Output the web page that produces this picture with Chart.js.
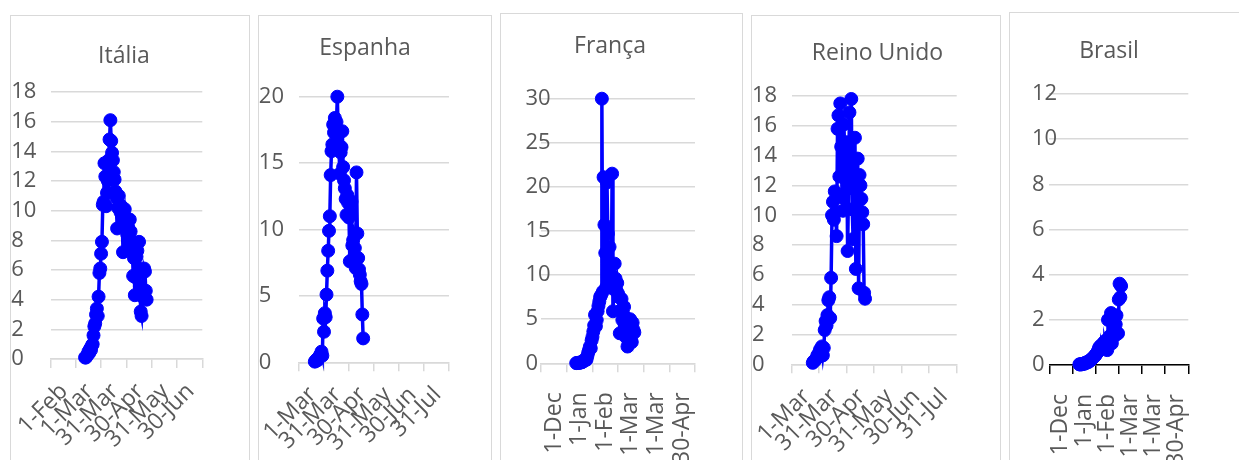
<!DOCTYPE html>
<html><head><meta charset="utf-8">
<script src="https://cdn.jsdelivr.net/npm/chart.js@4"></script>
<style>
html,body{margin:0;padding:0;background:#fff;overflow:hidden;width:1239px;height:460px;position:relative;}
.box{position:absolute;border:1px solid #d9d9d9;box-sizing:border-box;}
canvas{position:absolute;}
.ttl{position:absolute;font-family:"Open Sans";font-size:23px;line-height:23px;color:#595959;white-space:nowrap;transform:translateX(-50%);}
</style></head><body>
<script>
// ---------- DATA ----------
const italiaDias = [26,27,28,29,30,31,32,33,34,35,36,37,38,39,40,41,42,43,44,45,46,47,48,49,50,51,52,53,54,55,56,57,58,59,60,61,62,63,64,65,66,67,68,69,70,71,72,73,74,75,76,77,78,79,80,81,82,83,84,85,86,87,88,89,90,91,92,93,94,95,96,97,98,99];
const italiaValores = [0.1,0.1,0.2,0.3,0.5,0.4,0.7,0.6,0.9,1.0,1.6,2.2,2.4,3.0,3.4,2.9,4.2,5.8,6.1,7.1,7.9,10.4,10.6,13.2,12.3,10.3,11.2,12.0,13.4,14.8,16.1,14.7,13.9,13.4,12.6,12.1,11.3,10.9,8.8,10.2,11.0,10.4,9.9,10.3,9.6,7.2,9.8,10.1,9.5,9.2,8.4,8.9,7.7,9.4,8.6,7.4,7.9,5.6,6.8,4.3,5.5,6.9,7.3,5.9,7.9,4.9,3.2,2.9,4.2,4.6,6.1,5.9,4.6,4.0];
const italiaRotulos = ['1-Feb','1-Mar','31-Mar','30-Apr','31-May','30-Jun'];

const espanhaDias = [4,5,6,7,8,9,10,11,12,13,14,15,16,17,18,19,20,21,22,23,24,25,26,27,28,29,30,31,32,33,34,35,36,37,38,39,40,41,42,43,44,45,46,47,48,49,50,51,52,53,54,55,56,57,58,59,60,61,62];
const espanhaValores = [0.05,0.1,0.2,0.15,0.3,0.4,0.5,0.6,0.8,0.5,3.3,2.3,3.7,3.4,5.1,6.9,8.4,9.9,11.0,14.1,15.9,16.4,17.9,17.3,18.4,16.3,18.1,20.0,17.3,16.0,14.2,15.8,16.2,17.4,14.7,13.7,13.1,12.3,11.1,12.6,12.0,10.9,7.6,11.3,12.1,8.8,9.2,7.9,8.6,7.1,14.3,9.7,7.85,7.0,6.6,6.1,5.9,3.6,1.8];
const espanhaRotulos = ['1-Mar','31-Mar','30-Apr','31-May','30-Jun','31-Jul'];

const francaDias = [26,27,28,29,30,31,32,33,34,35,36,37,38,39,40,41,42,43,44,45,46,47,48,49,50,51,52,53,54,55,56,57,58,59,60,61,62,63,64,65,66,67,68,69,70,71,72,73,74,75,76,77,78,79,80,81,82,83,84,85,86,87,88,89,90,91,92,93,94];
const francaValores = [0.02,0.03,0.05,0.05,0.08,0.1,0.1,0.15,0.2,0.3,0.4,0.5,0.4,0.8,1.2,1.5,1.9,1.7,2.6,3.0,3.6,4.3,5.5,4.2,4.9,5.9,6.5,7.0,7.5,7.7,30.0,8.1,21.1,15.7,12.5,8.6,20.5,14.7,9.0,13.2,11.0,8.6,21.5,5.9,8.4,11.3,9.6,8.3,9.1,7.9,7.5,3.4,6.0,7.3,4.9,5.6,6.4,4.1,3.0,4.9,1.9,2.6,4.3,5.0,2.7,2.4,4.6,3.8,3.5];
const francaRotulos = ['1-Dec','1-Jan','1-Feb','1-Mar','1-Mar','30-Apr'];

const reinoUnidoDias = [8,9,10,11,12,13,14,15,16,17,18,19,20,21,22,23,24,25,26,27,28,29,30,31,32,33,34,35,36,37,38,39,40,41,42,43,44,45,46,47,48,49,50,51,52,53,54,55,56,57,58,59,60,61,62,63,64,65];
const reinoUnidoValores = [0.1,0.2,0.25,0.3,0.4,0.6,0.5,0.8,1.0,0.9,1.2,0.6,1.1,2.3,2.9,2.6,3.3,4.3,4.5,3.1,5.8,10.0,10.9,9.7,11.6,10.2,8.6,15.8,16.7,12.6,17.5,14.6,11.2,10.3,16.1,13.5,12.4,14.9,7.6,11.8,16.9,12.9,17.8,10.4,8.4,12.2,15.2,6.4,11.9,13.8,5.1,12.7,12.0,11.1,10.2,9.4,4.8,4.4];
const reinoUnidoRotulos = ['1-Mar','31-Mar','30-Apr','31-May','30-Jun','31-Jul'];

const brasilDias = [24,25,26,27,28,29,30,31,32,33,34,35,36,37,38,39,40,41,42,43,44,45,46,47,48,49,50,51,52,53,54,55,56,57,58,59,60,61,62,63,64,65,66,67,68,69,70,71,72,73,74,75,76,77,78];
const brasilValores = [0.03,0.02,0.04,0.03,0.05,0.06,0.05,0.08,0.1,0.09,0.12,0.15,0.14,0.18,0.2,0.24,0.26,0.3,0.33,0.37,0.4,0.45,0.5,0.55,0.6,0.72,0.8,0.68,0.85,0.9,0.78,0.95,1.0,1.05,0.9,1.1,0.66,2.0,1.2,1.0,1.3,2.3,0.96,1.9,2.0,1.6,1.3,1.8,2.2,1.4,1.4,2.9,3.6,3.0,3.5];
const brasilRotulos = ['1-Dec','1-Jan','1-Feb','1-Mar','1-Mar','30-Apr'];

// label centre positions (days) and interval boundaries (days)
const posRotulos = [0,30,60,90,120,150];
const limites = [-15,15,45,75,105,135,165];

// ---------- LAYOUT ----------
const panels = [
  {title:'Itália', dias:italiaDias, valores:italiaValores, rotulos:italiaRotulos, yMax:18, yStep:2, rot:45,
   box:{l:10,t:15,r:250}, area:{l:50.5,r:202.3,t:92,b:359}, labelLeft:11.2, tx:124, ty:55, axis:'#d9d9d9'},
  {title:'Espanha', dias:espanhaDias, valores:espanhaValores, rotulos:espanhaRotulos, yMax:20, yStep:5, rot:45,
   box:{l:258,t:15,r:492}, area:{l:299,r:449,t:96.7,b:362.3}, labelLeft:258.8, tx:365, ty:46.7, axis:'#d9d9d9'},
  {title:'França', dias:francaDias, valores:francaValores, rotulos:francaRotulos, yMax:30, yStep:5, rot:90,
   box:{l:500,t:13,r:743}, area:{l:541.2,r:695,t:98.7,b:363.3}, labelLeft:525.5, tx:610, ty:45, axis:'#d9d9d9'},
  {title:'Reino Unido', dias:reinoUnidoDias, valores:reinoUnidoValores, rotulos:reinoUnidoRotulos, yMax:18, yStep:2, rot:45,
   box:{l:751,t:15,r:1001}, area:{l:791.7,r:956.7,t:96,b:364.3}, labelLeft:752, tx:877.5, ty:51.7, axis:'#d9d9d9'},
  {title:'Brasil', dias:brasilDias, valores:brasilValores, rotulos:brasilRotulos, yMax:12, yStep:2, rot:90,
   box:{l:1009,t:12,r:1249}, area:{l:1049.3,r:1188.3,t:94,b:365}, labelLeft:1032, tx:1109, ty:50, axis:'#000000'}
];

Chart.defaults.font.family = '"Open Sans"';
const TXT = '#595959';
const BOTTOM = 475;
const TICKLEN = 9;

panels.forEach((p) => {
  const W = p.box.r - p.box.l, H = BOTTOM - p.box.t;
  const b = document.createElement('div');
  b.className = 'box';
  Object.assign(b.style, {left:p.box.l+'px', top:p.box.t+'px', width:W+'px', height:(H+20)+'px'});
  document.body.appendChild(b);

  const c = document.createElement('canvas');
  c.width = W; c.height = H;
  Object.assign(c.style, {left:p.box.l+'px', top:p.box.t+'px', width:W+'px', height:H+'px'});
  document.body.appendChild(c);

  const t = document.createElement('div');
  t.className = 'ttl';
  t.textContent = p.title;
  Object.assign(t.style, {left:p.tx+'px', top:(p.ty-12.1)+'px'});
  document.body.appendChild(t);

  const pxPerDay = (p.area.r - p.area.l) / 180;
  const shift = p.rot === 45 ? 1 / pxPerDay : 0;
  const pad = p.rot === 45 ? 10 : 20;
  const chartBottom = p.area.b - p.box.t;

  new Chart(c.getContext('2d'), {
    type:'line',
    data:{datasets:[{
      data:p.dias.map((d,i)=>({x:d, y:p.valores[i]})),
      borderColor:'#0000ff', backgroundColor:'#0000ff', borderWidth:3.5,
      pointRadius:6.5, pointBorderWidth:1, pointBackgroundColor:'#0000ff', pointBorderColor:'#0000ff',
      tension:0, clip:false, xAxisID:'x', yAxisID:'y'
    }]},
    options:{
      responsive:false, animation:false, devicePixelRatio:1, events:[],
      layout:{padding:{left:p.labelLeft - p.box.l, right:W - (p.area.r - p.box.l), top:p.area.t - p.box.t, bottom:0}},
      plugins:{legend:{display:false}, tooltip:{enabled:false}, title:{display:false}},
      scales:{
        x:{type:'linear', position:'bottom', min:-15, max:165, weight:0,
          afterBuildTicks:(ax)=>{ ax.ticks = limites.map(v=>({value:v})); },
          ticks:{display:false},
          grid:{display:true, drawOnChartArea:false, drawTicks:true, tickLength:TICKLEN, color:p.axis, lineWidth:1.5},
          border:{display:true, color:p.axis, width:1.5},
          afterFit:(s)=>{ s.height = TICKLEN; s.paddingLeft = 0; s.paddingRight = 0; }
        },
        xl:{type:'linear', position:'bottom', min:-15, max:165, weight:1,
          afterBuildTicks:(ax)=>{ ax.ticks = posRotulos.map(v=>({value:v + shift})); },
          ticks:{autoSkip:false, minRotation:p.rot, maxRotation:p.rot, padding:pad, color:TXT, font:{size:23},
                 callback:(v,i)=>p.rotulos[i]},
          grid:{display:false, drawTicks:false},
          border:{display:false},
          afterFit:(s)=>{ s.height = H - chartBottom - TICKLEN; s.paddingLeft = 0; s.paddingRight = 0; }
        },
        y:{type:'linear', min:0, max:p.yMax,
          ticks:{stepSize:p.yStep, mirror:true, crossAlign:'near', padding:p.labelLeft - p.area.l, color:TXT, font:{size:22}},
          grid:{color:'#d9d9d9', lineWidth:1.5, drawTicks:false},
          border:{display:false},
          afterFit:(s)=>{ s.width = p.area.l - p.labelLeft; s.paddingTop = 0; s.paddingBottom = 0; }
        }
      }
    }
  });
});
</script>
</body></html>
